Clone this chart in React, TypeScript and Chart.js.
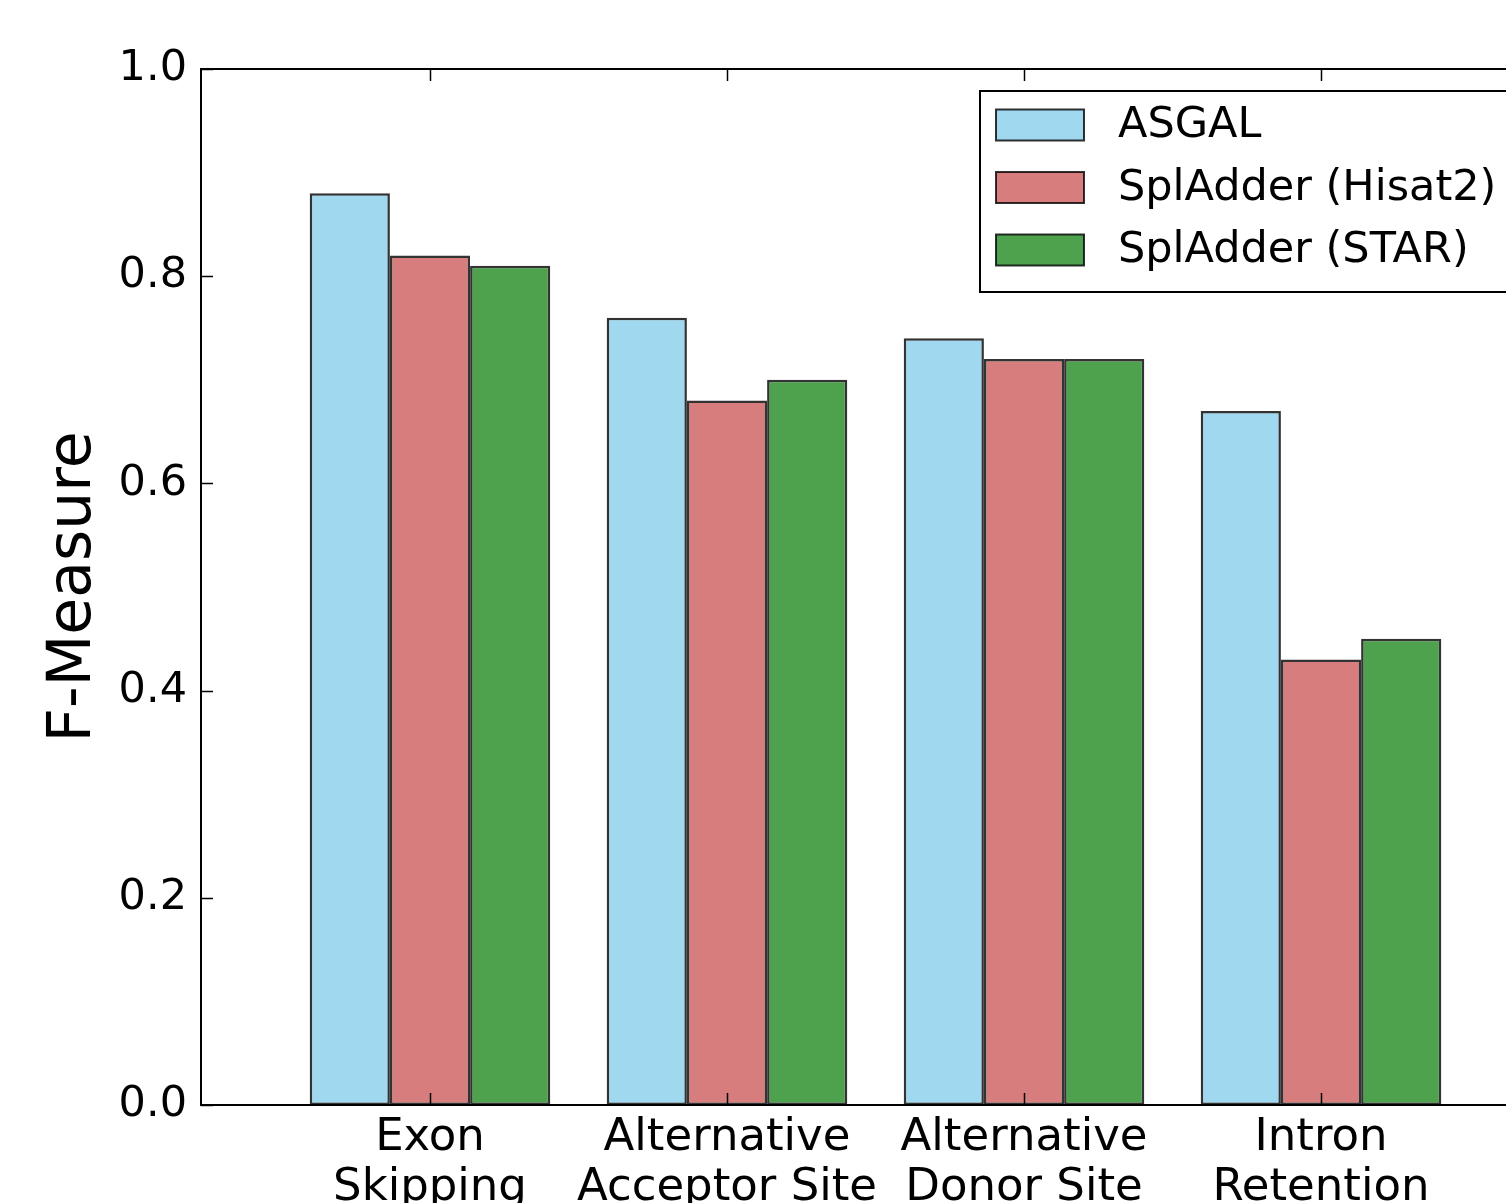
import React, { useEffect, useRef } from "react";
import { Chart, registerables } from "chart.js";

Chart.register(...registerables);

const categories: string[][] = [
  ["Exon", "Skipping"],
  ["Alternative", "Acceptor Site"],
  ["Alternative", "Donor Site"],
  ["Intron", "Retention"],
];
const seriesNames = ["ASGAL", "SplAdder (Hisat2)", "SplAdder (STAR)"];
const asgalValues = [0.88, 0.76, 0.74, 0.67];
const hisat2Values = [0.82, 0.68, 0.72, 0.43];
const starValues = [0.81, 0.7, 0.72, 0.45];
const yTickValues = [0, 0.2, 0.4, 0.6, 0.8, 1.0];
const seriesColors = [
  "rgba(135,206,235,0.8)",
  "rgba(205,92,92,0.8)",
  "rgba(34,139,34,0.8)",
];

const FONT = "'DejaVu Sans', sans-serif";
const CANVAS_W = 1560;
const CANVAS_H = 1245;

const framePlugin = {
  id: "mplFrame",
  afterDatasetsDraw(chart: any) {
    const { ctx, chartArea: a, scales } = chart;
    ctx.save();
    ctx.strokeStyle = "#000";
    ctx.lineWidth = 1.5;
    const tl = 12;
    const line = (x1: number, y1: number, x2: number, y2: number) => {
      ctx.beginPath();
      ctx.moveTo(x1, y1);
      ctx.lineTo(x2, y2);
      ctx.stroke();
    };
    scales.x.ticks.forEach((t: any) => {
      const px = Math.round(scales.x.getPixelForValue(t.value)) + 0.5;
      line(px, a.bottom, px, a.bottom - tl);
      line(px, a.top, px, a.top + tl);
    });
    scales.y.ticks.forEach((t: any) => {
      const py = Math.round(scales.y.getPixelForValue(t.value)) + 0.5;
      line(a.left, py, a.left + tl, py);
      line(a.right, py, a.right - tl, py);
    });
    ctx.lineWidth = 2;
    ctx.strokeRect(a.left, a.top, a.right - a.left, a.bottom - a.top);

    // legend
    const bx = a.left + 779;
    const by = a.top + 22;
    const bw = a.right - 22 - bx;
    const bh = 201;
    ctx.fillStyle = "#fff";
    ctx.fillRect(bx, by, bw, bh);
    ctx.lineWidth = 2;
    ctx.strokeStyle = "#000";
    ctx.strokeRect(bx, by, bw, bh);
    const rows = [34, 96.5, 159];
    chart.data.datasets.forEach((ds: any, i: number) => {
      const cy = by + rows[i];
      ctx.fillStyle = ds.backgroundColor;
      ctx.fillRect(bx + 16, cy - 15.5, 88, 31);
      ctx.strokeStyle = "rgba(0,0,0,0.8)";
      ctx.lineWidth = 2;
      ctx.strokeRect(bx + 16, cy - 15.5, 88, 31);
      ctx.fillStyle = "#000";
      ctx.font = `43px ${FONT}`;
      ctx.textBaseline = "middle";
      ctx.textAlign = "left";
      ctx.fillText(ds.label, bx + 138, cy + 1);
    });
    ctx.restore();
  },
};

export default function App() {
  const ref = useRef<HTMLCanvasElement | null>(null);

  useEffect(() => {
    if (!ref.current) return;
    const series = [asgalValues, hisat2Values, starValues];
    const chart = new Chart(ref.current, {
      type: "bar",
      data: {
        datasets: series.map((vals, i) => ({
          label: seriesNames[i],
          data: vals.map((v, j) => ({ x: j, y: v })),
          backgroundColor: seriesColors[i],
          borderColor: "rgba(0,0,0,0.8)",
          borderWidth: 2.5,
          borderSkipped: false,
          categoryPercentage: 0.81,
          barPercentage: 1.0,
        })),
      },
      options: {
        responsive: false,
        animation: false,
        devicePixelRatio: 1,
        layout: { padding: { left: 0, top: 69, right: 10, bottom: 0 } },
        plugins: {
          legend: { display: false },
          tooltip: { enabled: false },
        },
        scales: {
          x: {
            type: "linear",
            offset: false,
            min: -0.771,
            max: 3.771,
            grid: { display: false, drawTicks: false, offset: false },
            border: { display: false },
            afterBuildTicks: (scale: any) => {
              scale.ticks = categories.map((_, i) => ({ value: i }));
            },
            afterFit: (scale: any) => {
              scale.height = CANVAS_H - 1105;
            },
            ticks: {
              autoSkip: false,
              maxRotation: 0,
              minRotation: 0,
              padding: 8,
              color: "#000",
              font: { family: FONT, size: 45, lineHeight: 1.12 },
              callback: (v: any) => categories[Number(v)] ?? "",
            },
          },
          y: {
            min: 0,
            max: 1,
            grid: { display: false, drawTicks: false },
            border: { display: false },
            afterBuildTicks: (scale: any) => {
              scale.ticks = yTickValues.map((v) => ({ value: v }));
            },
            afterFit: (scale: any) => {
              scale.width = 201;
            },
            ticks: {
              padding: 14,
              color: "#000",
              font: { family: FONT, size: 43 },
              callback: (v: any) => Number(v).toFixed(1),
            },
            title: {
              display: true,
              text: "F-Measure",
              color: "#000",
              font: { family: FONT, size: 60, lineHeight: 1.2 },
              padding: { top: 38, bottom: 0 },
            },
          },
        },
      },
      plugins: [framePlugin],
    } as any);
    return () => chart.destroy();
  }, []);

  return (
    <div
      style={{
        position: "fixed",
        left: 0,
        top: 0,
        width: 1506,
        height: 1203,
        overflow: "hidden",
        background: "#fff",
      }}
    >
      <canvas
        ref={ref}
        width={CANVAS_W}
        height={CANVAS_H}
        style={{ display: "block", width: CANVAS_W, height: CANVAS_H }}
      />
    </div>
  );
}
